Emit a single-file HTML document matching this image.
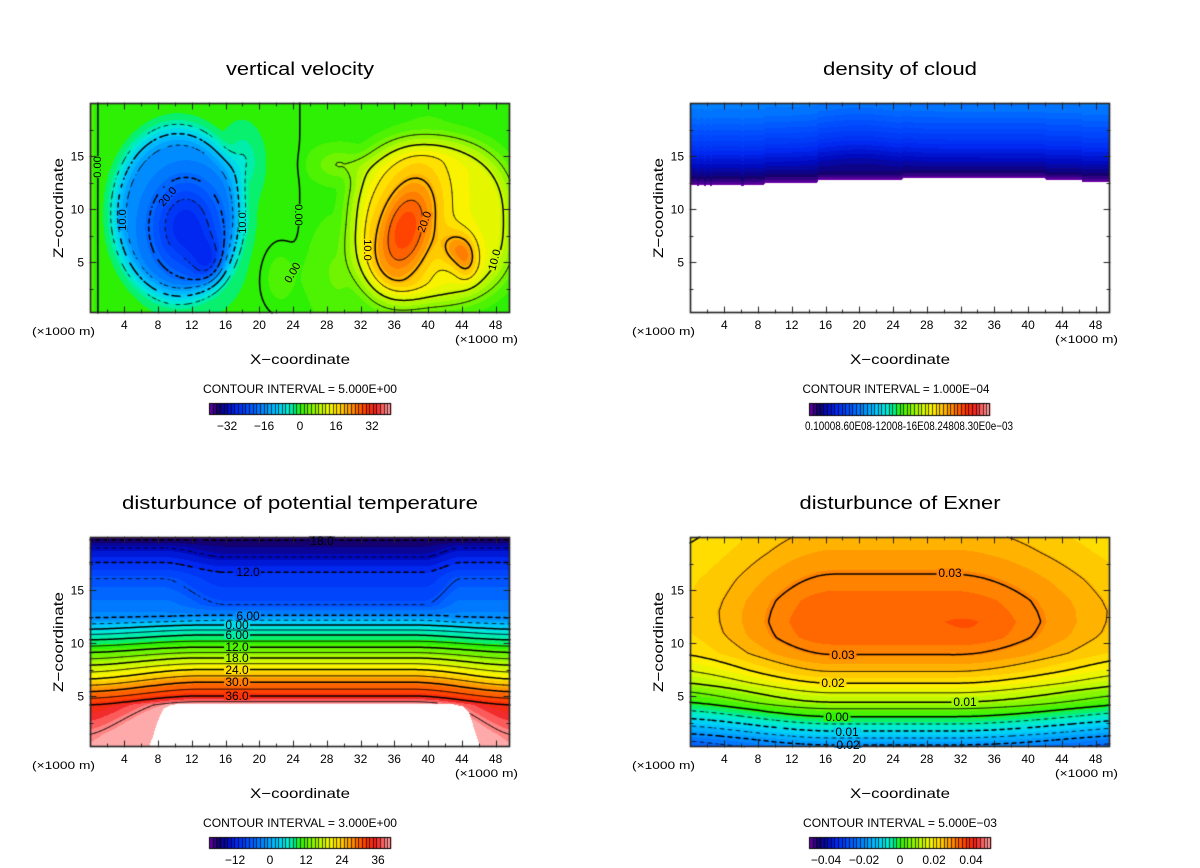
<!DOCTYPE html>
<html><head><meta charset="utf-8">
<style>
html,body{margin:0;padding:0;background:#fff;}
#wrap{position:relative;width:1200px;height:868px;overflow:hidden;background:#fff;}
canvas,svg{position:absolute;left:0;top:0;}
svg text{font-family:"Liberation Sans",sans-serif;fill:#000;}
</style></head><body><div id="wrap">
<canvas id="cv" width="1200" height="868"></canvas>
<svg width="1200" height="868" viewBox="0 0 1200 868">
<!-- Panel 1 -->
<g>
<text x="300" y="75" font-size="18" text-anchor="middle" textLength="148" lengthAdjust="spacingAndGlyphs">vertical velocity</text>
<g font-size="12" text-anchor="middle">
<text x="124.3" y="329">4</text><text x="158" y="329">8</text><text x="191.8" y="329">12</text><text x="225.5" y="329">16</text><text x="259.3" y="329">20</text><text x="293.1" y="329">24</text><text x="326.8" y="329">28</text><text x="360.6" y="329">32</text><text x="394.3" y="329">36</text><text x="428.1" y="329">40</text><text x="461.9" y="329">44</text><text x="495.6" y="329">48</text>
</g>
<g font-size="12" text-anchor="end"><text x="84" y="266.5">5</text><text x="84" y="213.5">10</text><text x="84" y="160.5">15</text></g>
<text x="32" y="335" font-size="11" textLength="63" lengthAdjust="spacingAndGlyphs">(×1000 m)</text>
<text x="455" y="343" font-size="11" textLength="63" lengthAdjust="spacingAndGlyphs">(×1000 m)</text>
<text x="300" y="364" font-size="14" text-anchor="middle" textLength="100" lengthAdjust="spacingAndGlyphs">X−coordinate</text>
<text transform="translate(63,208) rotate(-90)" font-size="14" text-anchor="middle" textLength="100" lengthAdjust="spacingAndGlyphs">Z−coordinate</text>
<text x="300" y="393" font-size="12" text-anchor="middle" textLength="194" lengthAdjust="spacingAndGlyphs">CONTOUR INTERVAL = 5.000E+00</text>
<g font-size="12" text-anchor="middle"><text x="227" y="430">−32</text><text x="264" y="430">−16</text><text x="300" y="430">0</text><text x="336" y="430">16</text><text x="372" y="430">32</text></g>
<g font-size="11" text-anchor="middle" dominant-baseline="central">
<text transform="translate(98,167) rotate(-90)">0.00</text>
<text transform="translate(123,220) rotate(-90)">10.0</text>
<text transform="translate(168,197) rotate(-50)">20.0</text>
<text transform="translate(243,223) rotate(-90)">10.0</text>
<text transform="translate(298,215) rotate(90)">0.00</text>
<text transform="translate(293,273) rotate(-60)">0.00</text>
<text transform="translate(367,250) rotate(90)">10.0</text>
<text transform="translate(425,222) rotate(-70)">20.0</text>
<text transform="translate(495,260) rotate(-75)">10.0</text>
</g>
</g>
<!-- Panel 2 -->
<g>
<text x="900" y="75" font-size="18" text-anchor="middle" textLength="154" lengthAdjust="spacingAndGlyphs">density of cloud</text>
<g font-size="12" text-anchor="middle">
<text x="724.3" y="329">4</text><text x="758" y="329">8</text><text x="791.8" y="329">12</text><text x="825.5" y="329">16</text><text x="859.3" y="329">20</text><text x="893.1" y="329">24</text><text x="926.8" y="329">28</text><text x="960.6" y="329">32</text><text x="994.3" y="329">36</text><text x="1028.1" y="329">40</text><text x="1061.9" y="329">44</text><text x="1095.6" y="329">48</text>
</g>
<g font-size="12" text-anchor="end"><text x="684" y="266.5">5</text><text x="684" y="213.5">10</text><text x="684" y="160.5">15</text></g>
<text x="632" y="335" font-size="11" textLength="63" lengthAdjust="spacingAndGlyphs">(×1000 m)</text>
<text x="1055" y="343" font-size="11" textLength="63" lengthAdjust="spacingAndGlyphs">(×1000 m)</text>
<text x="900" y="364" font-size="14" text-anchor="middle" textLength="100" lengthAdjust="spacingAndGlyphs">X−coordinate</text>
<text transform="translate(663,208) rotate(-90)" font-size="14" text-anchor="middle" textLength="100" lengthAdjust="spacingAndGlyphs">Z−coordinate</text>
<text x="896" y="393" font-size="12" text-anchor="middle" textLength="187" lengthAdjust="spacingAndGlyphs">CONTOUR INTERVAL = 1.000E−04</text>
<text x="805" y="430" font-size="12" textLength="208" lengthAdjust="spacingAndGlyphs">0.10008.60E08-12008-16E08.24808.30E0e−03</text>
</g>
<!-- Panel 3 -->
<g>
<text x="300" y="509" font-size="18" text-anchor="middle" textLength="356" lengthAdjust="spacingAndGlyphs">disturbunce of potential temperature</text>
<g font-size="12" text-anchor="middle">
<text x="124.3" y="763">4</text><text x="158" y="763">8</text><text x="191.8" y="763">12</text><text x="225.5" y="763">16</text><text x="259.3" y="763">20</text><text x="293.1" y="763">24</text><text x="326.8" y="763">28</text><text x="360.6" y="763">32</text><text x="394.3" y="763">36</text><text x="428.1" y="763">40</text><text x="461.9" y="763">44</text><text x="495.6" y="763">48</text>
</g>
<g font-size="12" text-anchor="end"><text x="84" y="700.5">5</text><text x="84" y="647.5">10</text><text x="84" y="594.5">15</text></g>
<text x="32" y="769" font-size="11" textLength="63" lengthAdjust="spacingAndGlyphs">(×1000 m)</text>
<text x="455" y="777" font-size="11" textLength="63" lengthAdjust="spacingAndGlyphs">(×1000 m)</text>
<text x="300" y="798" font-size="14" text-anchor="middle" textLength="100" lengthAdjust="spacingAndGlyphs">X−coordinate</text>
<text transform="translate(63,642) rotate(-90)" font-size="14" text-anchor="middle" textLength="100" lengthAdjust="spacingAndGlyphs">Z−coordinate</text>
<text x="300" y="827" font-size="12" text-anchor="middle" textLength="194" lengthAdjust="spacingAndGlyphs">CONTOUR INTERVAL = 3.000E+00</text>
<g font-size="12" text-anchor="middle"><text x="235" y="864">−12</text><text x="270" y="864">0</text><text x="306" y="864">12</text><text x="342" y="864">24</text><text x="378" y="864">36</text></g>
<g font-size="12" text-anchor="middle" dominant-baseline="central">
<text x="322" y="541">18.0</text>
<text x="248" y="572">12.0</text>
<text x="248" y="616">6.00</text>
<text x="237" y="625">0.00</text>
<text x="237" y="635">6.00</text>
<text x="237" y="647">12.0</text>
<text x="237" y="658">18.0</text>
<text x="237" y="670">24.0</text>
<text x="237" y="682">30.0</text>
<text x="237" y="696">36.0</text>
</g>
</g>
<!-- Panel 4 -->
<g>
<text x="900" y="509" font-size="18" text-anchor="middle" textLength="201" lengthAdjust="spacingAndGlyphs">disturbunce of Exner</text>
<g font-size="12" text-anchor="middle">
<text x="724.3" y="763">4</text><text x="758" y="763">8</text><text x="791.8" y="763">12</text><text x="825.5" y="763">16</text><text x="859.3" y="763">20</text><text x="893.1" y="763">24</text><text x="926.8" y="763">28</text><text x="960.6" y="763">32</text><text x="994.3" y="763">36</text><text x="1028.1" y="763">40</text><text x="1061.9" y="763">44</text><text x="1095.6" y="763">48</text>
</g>
<g font-size="12" text-anchor="end"><text x="684" y="700.5">5</text><text x="684" y="647.5">10</text><text x="684" y="594.5">15</text></g>
<text x="632" y="769" font-size="11" textLength="63" lengthAdjust="spacingAndGlyphs">(×1000 m)</text>
<text x="1055" y="777" font-size="11" textLength="63" lengthAdjust="spacingAndGlyphs">(×1000 m)</text>
<text x="900" y="798" font-size="14" text-anchor="middle" textLength="100" lengthAdjust="spacingAndGlyphs">X−coordinate</text>
<text transform="translate(663,642) rotate(-90)" font-size="14" text-anchor="middle" textLength="100" lengthAdjust="spacingAndGlyphs">Z−coordinate</text>
<text x="900" y="827" font-size="12" text-anchor="middle" textLength="194" lengthAdjust="spacingAndGlyphs">CONTOUR INTERVAL = 5.000E−03</text>
<g font-size="12" text-anchor="middle"><text x="826" y="864">−0.04</text><text x="864" y="864">−0.02</text><text x="900" y="864">0</text><text x="934" y="864">0.02</text><text x="971" y="864">0.04</text></g>
<g font-size="12" text-anchor="middle" dominant-baseline="central">
<text x="950" y="573">0.03</text>
<text x="843" y="655">0.03</text>
<text x="833" y="683">0.02</text>
<text x="965" y="702">0.01</text>
<text x="837" y="717">0.00</text>
<text x="847" y="732">0.01</text>
<text x="848" y="745">0.02</text>
</g>
</g>
</svg>
</div>
<script>
var cv=document.getElementById('cv'), ctx=cv.getContext('2d');
var S=[[0.00,110,0,170],[0.05,20,0,110],[0.10,0,10,190],[0.15,0,40,240],[0.22,0,80,255],[0.30,0,140,255],[0.37,0,200,255],[0.43,0,235,210],[0.47,0,240,130],[0.50,45,240,5],[0.56,125,245,0],[0.62,200,250,0],[0.68,255,242,0],[0.74,255,190,0],[0.80,255,125,0],[0.86,255,55,0],[0.92,240,35,35],[0.96,255,110,110],[1.0,255,170,170]];
function sq(a){return a*a;}
function cmap(t){
  if(!(t>0)) return S[0].slice(1);
  if(t>=1) return S[S.length-1].slice(1);
  for(var i=1;i<S.length;i++){ if(t<=S[i][0]){ var a=S[i-1],b=S[i],f=(t-a[0])/(b[0]-a[0]); return [a[1]+(b[1]-a[1])*f,a[2]+(b[2]-a[2])*f,a[3]+(b[3]-a[3])*f]; } }
  return S[S.length-1].slice(1);
}
function lin(T,z){ if(z<=T[0][0]) return T[0][1]; for(var i=1;i<T.length;i++){ if(z<=T[i][0]){ var a=T[i-1],b=T[i]; return a[1]+(b[1]-a[1])*(z-a[0])/(b[0]-a[0]); } } return T[T.length-1][1]; }
function g2(x,z,cx,cz,sx,sz){ var dx=(x-cx)/sx, dz=(z-cz)/sz; return Math.exp(-(dx*dx+dz*dz)); }
function sstep(a,b,v){ var t=(v-a)/(b-a); t=Math.max(0,Math.min(1,t)); return t*t*(3-2*t); }

// Panel 1: vertical velocity
function f1(x,z){
  var dx=(x-10.3)/8, dz=(z-9.6)/8.5, r=Math.sqrt(dx*dx+dz*dz);
  var neg = -14*(1-sstep(0.7,1.15,r)) - 14*g2(x,z,11.3,8.3,4.5,4.8) - 7*g2(x,z,14,5,2,2.2) - 4.5*g2(x,z,18,14.5,1.8,2.5);
  neg *= sstep(-0.5,2.2,x);
  var v=neg;
  var sxp = x<40?9.5:10.5;
  var ax=Math.abs((x-40)/sxp), az=Math.abs((z-8.8)/8);
  var rp=Math.pow(Math.pow(ax,2.5)+Math.pow(az,2.5),0.4);
  v += 12*(1-sstep(0.7,1.2,rp));
  var u=(x-37.3)-0.25*(z-8);
  v += 16*Math.exp(-(sq(u/3.8)+sq((z-8)/5.6)));
  v += 8*g2(x,z,43.3,6.3,1.8,1.8) + 7*g2(x,z,44.6,5.2,1.3,1.8);
  v += 4.5*g2(x,z,29.5,14.2,2.8,1.4);
  v += 2.5*g2(x,z,22.5,3.5,2.2,3) + 2.5*g2(x,z,29,4,2.5,4);
  v += 0.6*Math.tanh((x-24.8)/0.8) + 2*Math.exp(-sq(x/0.8));
  return v;
}
// Panel 2: cloud
var ZC=[[0,12.3],[8.7,12.3],[8.9,12.5],[15,12.5],[15.2,12.75],[25,12.75],[25.2,12.9],[42,12.9],[42.2,12.74],[46.5,12.74],[46.7,12.58],[50,12.58]];
var T2=[[0,0.0],[0.3,0.03],[0.8,0.06],[1.5,0.09],[2.5,0.13],[3.5,0.17],[5,0.22],[6.5,0.265],[8,0.29]];
function f2(x,z){
  var zc=lin(ZC,x);
  if((x>0.8&&x<1.0)||(x>1.6&&x<1.8)||(x>2.3&&x<2.5)||(x>6&&x<6.3)||(x>46.4&&x<46.6)) zc-=0.15;
  if(z<zc) return NaN;
  var d=z-zc-0.5*Math.exp(-sq((x-20)/5))*sstep(0.5,2,z-zc);
  return lin(T2,d);
}
// Panel 3: potential temperature
var C3=[[0,48],[4.2,40.5],[5.0,36],[6.3,30],[7.5,24],[8.6,18],[9.6,12],[10.75,6],[11.7,0],[12.15,-3],[12.6,-6],[13.6,-9],[16.7,-12],[18.1,-15],[19.7,-18],[20.5,-19.5]];
var E3=[[0,39.8],[1.3,39],[4.15,36],[5.4,30],[6.6,24],[7.9,18],[9.1,12],[10.3,6],[11.3,0],[11.8,-3],[12.3,-6],[16.1,-9],[17.6,-12],[19.0,-15],[19.7,-18],[20.5,-19.5]];
var ZW=[[0,-1],[6.6,-1],[7,0.3],[7.4,1.2],[7.8,2.2],[8.2,3.1],[8.7,3.8],[9.5,4.15],[10.5,4.25],[43,4.2],[44.2,4.0],[44.8,3.5],[45.2,2.6],[45.6,1.5],[46,0.6],[46.3,0.2],[46.5,-1],[50,-1]];
var TF3=[[-21,0],[-18,0.04],[-15,0.10],[-12,0.16],[-9,0.22],[-6,0.30],[0,0.40],[6,0.46],[12,0.53],[18,0.61],[24,0.69],[30,0.80],[36,0.88],[38,0.95],[40,1.0]];
function f3(x,z){
  if(z<lin(ZW,x)) return NaN;
  var m=sstep(11.5,13,z);
  var wl=sstep(-1,13,x)*(1-sstep(38,50.5,x));
  var wu=sstep(8.5,16,x)*(1-sstep(39.5,44,x));
  var w=wl*(1-m)+wu*m;
  return w*lin(C3,z)+(1-w)*lin(E3,z);
}
// Panel 4: Exner (1e-3 units)
var C4=[[0,-22.5],[0.38,-20],[1.04,-15],[1.7,-10],[2.36,-5],[3.05,0],[3.8,5],[4.4,10],[5.3,15],[6.2,20],[7.3,25],[8.9,30],[10.5,33.2],[12,34],[14,33],[16.5,30],[18.5,27.5],[20.5,25.5]];
var E4=[[0,-29],[0.85,-25],[1.5,-20],[2.26,-15],[2.95,-10],[3.7,-5],[4.5,0],[5.5,5],[6.3,10],[7.5,15],[9.05,20],[11,21.8],[13,22.3],[16,21.5],[20.5,19]];
function f4(x,z){ var w=sstep(-3,17,x)*(1-sstep(31,58,x)); return w*lin(C4,z)+(1-w)*lin(E4,z)+0.8*g2(x,z,34,11.5,4,1.5); }

var P=[
 {F:f1,ox:0,oy:0,tf:function(v){return (v+40.2)/80.4;},N:40,levels:[]},
 {F:f2,ox:600,oy:0,tf:function(v){return v;},N:60,levels:null},
 {F:f3,ox:0,oy:434,tf:function(v){return lin(TF3,v);},N:40,levels:[]},
 {F:f4,ox:600,oy:434,tf:function(v){return (v+52)/104;},N:44,levels:[]}
];
var L;
for(L=-35;L<=35;L+=5) P[0].levels.push([L,L%10===0,L<0]);
for(L=-18;L<=39;L+=3) P[2].levels.push([L,L%6===0,L<0]);
for(L=-25;L<=35;L+=5) P[3].levels.push([L,L%10===0,L<0]);

function X(px){return (px-90.5)/8.44;}
function Z(py){return (315-py)/10.6;}
function colorAt(p,x,z){ var v=p.F(x,z); if(isNaN(v)) return [255,255,255]; var t=p.tf(v); t=Math.round(t*p.N)/p.N; return cmap(t); }

function render(p){
  var W=420,H=210,img=ctx.createImageData(W,H);
  for(var j=0;j<H;j++){ var z=Z(103+j+0.5);
    for(var i=0;i<W;i++){ var x=X(90+i+0.5);
      var c=colorAt(p,x,z); var k=(j*W+i)*4;
      img.data[k]=c[0]; img.data[k+1]=c[1]; img.data[k+2]=c[2]; img.data[k+3]=255; } }
  ctx.putImageData(img,90+p.ox,103+p.oy);
}
function contour(p){
  if(!p.levels) return;
  var s=2,W=420,H=210,nx=W/s+1,ny=H/s+1,x0=90+p.ox,y0=103+p.oy;
  var g=new Float64Array(nx*ny);
  for(var j=0;j<ny;j++) for(var i=0;i<nx;i++){ g[j*nx+i]=p.F(X(90+i*s),Z(103+j*s)); }
  ctx.strokeStyle='#000'; ctx.lineCap='round';
  for(var q=0;q<p.levels.length;q++){
    var Lv=p.levels[q][0], thick=p.levels[q][1], dash=p.levels[q][2];
    ctx.beginPath(); ctx.lineWidth=thick?1.5:0.7;
    for(var jj=0;jj<ny-1;jj++) for(var ii=0;ii<nx-1;ii++){
      var a=g[jj*nx+ii],b=g[jj*nx+ii+1],c=g[(jj+1)*nx+ii+1],d=g[(jj+1)*nx+ii];
      if(isNaN(a)||isNaN(b)||isNaN(c)||isNaN(d)) continue;
      var idx=(a>Lv?8:0)|(b>Lv?4:0)|(c>Lv?2:0)|(d>Lv?1:0);
      if(idx===0||idx===15) continue;
      var T=[ii+(Lv-a)/(b-a),jj], R=[ii+1,jj+(Lv-b)/(c-b)], B=[ii+(Lv-d)/(c-d),jj+1], Lf=[ii,jj+(Lv-a)/(d-a)];
      var segs=null;
      switch(idx){
        case 1:case 14: segs=[[Lf,B]];break;
        case 2:case 13: segs=[[B,R]];break;
        case 3:case 12: segs=[[Lf,R]];break;
        case 4:case 11: segs=[[T,R]];break;
        case 6:case 9: segs=[[T,B]];break;
        case 7:case 8: segs=[[Lf,T]];break;
        case 5: segs=[[T,R],[Lf,B]];break;
        case 10: segs=[[Lf,T],[B,R]];break;
      }
      if(!segs) continue;
      for(var m=0;m<segs.length;m++){
        var sg=segs[m];
        var ax=x0+sg[0][0]*s, ay=y0+sg[0][1]*s, bx=x0+sg[1][0]*s, by=y0+sg[1][1]*s;
        if(!isFinite(ax)||!isFinite(ay)||!isFinite(bx)||!isFinite(by)) continue;
        if(dash){ var mx=(ax+bx)/2,my=(ay+by)/2; if((Math.floor(mx/4)+Math.floor(my/4))&1) continue; }
        ctx.moveTo(ax,ay); ctx.lineTo(bx,by);
      }
    }
    ctx.stroke();
  }
}
function clearLabel(p,l){
  var cx=l[0],cy=l[1],w=l[2],h=l[3],ang=l[4];
  var c=colorAt(p,X(cx-p.ox),Z(cy-p.oy));
  ctx.save(); ctx.translate(cx,cy); ctx.rotate(ang*Math.PI/180);
  ctx.fillStyle='rgb('+(c[0]|0)+','+(c[1]|0)+','+(c[2]|0)+')';
  ctx.fillRect(-w/2,-h/2,w,h); ctx.restore();
}
function axes(ox,oy){
  ctx.strokeStyle='#222'; ctx.lineWidth=1; ctx.beginPath();
  for(var x=2;x<=48;x+=2){ var px=Math.round(90.5+8.44*x+ox)+0.5, len=(x%4===0)?6:3;
    ctx.moveTo(px,313+oy); ctx.lineTo(px,313+oy-len); ctx.moveTo(px,103+oy); ctx.lineTo(px,103+oy+len); }
  for(var z=2.5;z<20;z+=2.5){ var py=Math.round(315-10.6*z+oy)+0.5, len2=(z%5===0)?6:3;
    ctx.moveTo(90+ox,py); ctx.lineTo(90+ox+len2,py); ctx.moveTo(510+ox,py); ctx.lineTo(510+ox-len2,py); }
  ctx.stroke();
  ctx.lineWidth=1.6; ctx.strokeStyle='#222'; ctx.strokeRect(90.5+ox,103.5+oy,419,209);
}
function cbar(x,y,w,h){
  var n=50,k;
  for(k=0;k<n;k++){ var a=x+k*w/n, b=x+(k+1)*w/n, c=cmap((k+0.5)/n);
    ctx.fillStyle='rgb('+(c[0]|0)+','+(c[1]|0)+','+(c[2]|0)+')'; ctx.fillRect(a,y,b-a+0.6,h); }
  ctx.fillStyle='rgba(0,0,0,0.7)';
  for(k=1;k<n;k++){ ctx.fillRect(Math.round(x+k*w/n),y,1,h); }
  ctx.strokeStyle='#000'; ctx.lineWidth=1; ctx.strokeRect(x+0.5,y+0.5,w-1,h-1);
}

ctx.fillStyle='#fff'; ctx.fillRect(0,0,1200,868);
for(var pi=0;pi<P.length;pi++){ try{ render(P[pi]); }catch(e){} try{ contour(P[pi]); }catch(e){} }
try{
[[98,167,9,22,0],[123,220,9,22,0],[168,197,22,9,-50],[243,223,9,22,0],[298,215,9,22,0],[293,273,22,9,-60],[367,250,9,22,0],[425,222,22,9,-70],[495,260,22,9,-75]].forEach(function(l){clearLabel(P[0],l);});
[[322,541,26,9,0],[248,572,26,9,0],[248,616,26,8,0],[237,625,26,8,0],[237,635,26,8,0],[237,647,26,8,0],[237,658,26,8,0],[237,670,26,8,0],[237,682,26,8,0],[237,696,26,8,0]].forEach(function(l){clearLabel(P[2],l);});
[[950,573,27,9,0],[843,655,27,9,0],[833,683,27,9,0],[965,702,27,9,0],[837,717,27,9,0],[847,732,27,9,0],[848,745,27,6,0]].forEach(function(l){clearLabel(P[3],l);});
}catch(e){}
for(var pj=0;pj<P.length;pj++) axes(P[pj].ox,P[pj].oy);
cbar(209,403,182,12); cbar(809,403,181,13); cbar(209,837,182,12); cbar(809,837,182,12);
</script>
</body></html>
